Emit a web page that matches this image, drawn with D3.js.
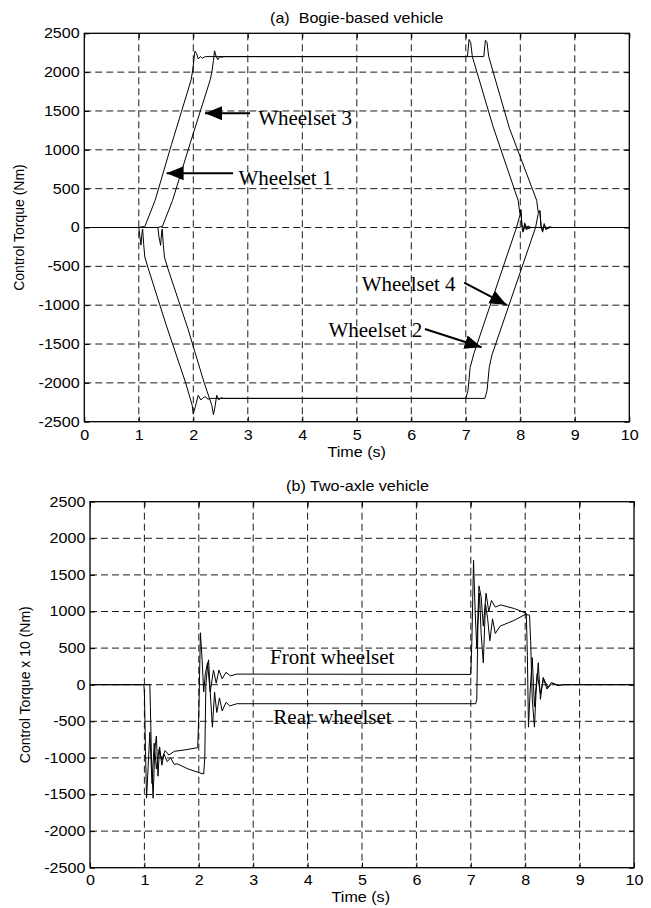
<!DOCTYPE html>
<html lang="en">
<head>
<meta charset="UTF-8">
<title>Control torque</title>
<style>
  body { margin: 0; background: #fff; }
</style>
</head>
<body>
<div id="wrapper"></div>
<script src="https://d3js.org/d3.v7.min.js"></script>
<script>
// ---- data (time in s, torque) ----
const xTicks = [0, 1, 2, 3, 4, 5, 6, 7, 8, 9, 10];
const yTicks = [-2500, -2000, -1500, -1000, -500, 0, 500, 1000, 1500, 2000, 2500];

// (a) bogie-based vehicle
const wheelset1 = [[0,0],[1.00,0],[1.06,10],[1.11,10],[1.30,350],[1.60,1070],[1.96,1900],[1.99,2030],
  [2.03,2270],[2.06,2240],[2.09,2170],[2.13,2200],[2.17,2180],[2.22,2200],[7.03,2200],[7.06,2420],
  [7.09,2380],[7.12,2200],[7.50,1300],[7.96,350],[7.99,190],[8.01,230],[8.03,0],[8.05,-60],[8.08,60],
  [8.11,-30],[8.14,20],[8.20,0],[10,0]];
const wheelset3 = [[0,0],[1.35,0],[1.40,10],[1.43,10],[1.62,350],[1.95,1100],[2.31,1900],[2.34,2000],
  [2.37,2150],[2.39,2275],[2.42,2200],[2.45,2160],[2.48,2200],[2.52,2190],[2.56,2200],[7.33,2200],
  [7.36,2410],[7.39,2380],[7.42,2200],[7.80,1280],[8.30,350],[8.33,190],[8.36,220],[8.38,0],[8.41,-60],
  [8.44,50],[8.47,-30],[8.52,10],[8.60,0],[10,0]];
const wheelset2 = [[0,0],[1.00,0],[1.02,-120],[1.04,-225],[1.06,-60],[1.07,-20],[1.09,-220],[1.11,-380],
  [1.17,-520],[1.50,-1250],[1.86,-2000],[1.98,-2290],[2.00,-2400],[2.04,-2300],[2.09,-2160],[2.14,-2220],
  [2.18,-2190],[2.22,-2180],[2.27,-2210],[2.32,-2200],[7.00,-2200],[7.04,-2100],[7.08,-1800],[7.15,-1620],
  [7.93,0],[7.99,150],[8.01,220],[8.03,40],[8.06,-40],[8.09,40],[8.13,-20],[8.20,0],[10,0]];
const wheelset4 = [[0,0],[1.35,0],[1.37,-120],[1.40,-230],[1.42,-60],[1.43,-20],[1.45,-220],[1.47,-380],
  [1.53,-520],[1.90,-1300],[2.20,-2000],[2.34,-2290],[2.37,-2410],[2.40,-2300],[2.43,-2160],[2.47,-2220],
  [2.51,-2190],[2.55,-2200],[2.62,-2200],[7.35,-2200],[7.39,-2100],[7.43,-1800],[7.48,-1640],[8.28,0],
  [8.33,180],[8.36,210],[8.38,30],[8.41,-40],[8.44,40],[8.48,-20],[8.55,0],[10,0]];

// (b) two-axle vehicle (torque x 10)
const frontWheelset = [[0,0],[0.99,0],[1.00,-100],[1.02,-900],[1.04,-1550],[1.07,-1100],[1.10,-650],
  [1.14,-1350],[1.18,-800],[1.22,-1150],[1.27,-880],[1.32,-1030],[1.38,-900],[1.45,-960],[1.55,-910],
  [1.75,-890],[1.98,-860],[2.00,-400],[2.03,710],[2.06,350],[2.09,-100],[2.12,150],[2.16,300],[2.21,-100],
  [2.27,200],[2.32,20],[2.37,200],[2.43,80],[2.50,170],[2.58,120],[2.70,145],[7.00,140],[7.02,600],
  [7.05,1700],[7.08,1000],[7.11,500],[7.15,1350],[7.19,1200],[7.23,800],[7.28,1250],[7.33,1000],
  [7.38,1150],[7.45,1060],[7.55,1090],[7.80,1040],[8.02,975],[8.04,400],[8.06,-580],[8.09,-100],
  [8.13,370],[8.17,-300],[8.22,150],[8.28,-120],[8.34,80],[8.42,-40],[8.50,20],[8.60,-10],[8.70,0],[10,0]];
const rearWheelset = [[0,0],[1.10,0],[1.11,-300],[1.13,-1000],[1.16,-1550],[1.19,-900],[1.22,-700],
  [1.25,-1250],[1.28,-850],[1.32,-1100],[1.36,-950],[1.42,-1050],[1.48,-1000],[1.55,-1090],[1.60,-1080],
  [1.80,-1150],[2.00,-1200],[2.09,-1220],[2.11,-1000],[2.13,0],[2.16,250],[2.18,340],[2.21,-100],
  [2.25,-580],[2.29,-100],[2.33,-380],[2.38,-180],[2.43,-360],[2.50,-240],[2.57,-290],[2.70,-260],
  [7.09,-260],[7.11,-200],[7.13,800],[7.16,1250],[7.19,700],[7.23,300],[7.27,1100],[7.31,900],
  [7.35,600],[7.40,900],[7.45,700],[7.54,800],[7.80,880],[8.00,960],[8.08,950],[8.10,600],[8.13,-200],
  [8.17,-580],[8.20,-100],[8.24,300],[8.28,-200],[8.33,100],[8.40,-60],[8.48,30],[8.60,-10],[8.70,0],[10,0]];

// annotations: [label, text pos (t, torque), arrow tail, arrow tip]
const notesA = [
  ['Wheelset 3', [3.19, 1318], [3.04, 1470], [2.215, 1470]],
  ['Wheelset 1', [2.83, 547], [2.73, 698], [1.51, 698]],
  ['Wheelset 4', [5.09, -813], [6.97, -710], [7.75, -997]],
  ['Wheelset 2', [4.48, -1413], [6.25, -1306], [7.29, -1542]]
];
const notesB = [
  ['Front wheelset', [3.31, 283]],
  ['Rear wheelset', [3.37, -537]]
];

const width = 651, height = 908;
const sans = '"Liberation Sans", Arial, sans-serif';
const serif = '"Liberation Serif", "Times New Roman", serif';
const stretch = 'scale(1.15,1)';

const svg = d3.select('#wrapper').append('svg')
  .attr('width', width).attr('height', height)
  .style('background', '#fff');

svg.append('defs').append('marker')
  .attr('id', 'head')
  .attr('markerUnits', 'userSpaceOnUse')
  .attr('viewBox', '0 -8 18 16')
  .attr('refX', 17).attr('refY', 0)
  .attr('markerWidth', 18).attr('markerHeight', 16)
  .attr('orient', 'auto')
  .append('path').attr('d', 'M0,-7L17,0L0,7Z').attr('fill', '#000');

function panel(p) {
  const x = d3.scaleLinear().domain([0, 10]).range([p.left, p.right]);
  const y = d3.scaleLinear().domain([-2500, 2500]).range([p.bottom, p.top]);
  const g = svg.append('g');

  // dashed grid
  g.append('g').selectAll('line').data(xTicks.slice(1, -1)).join('line')
    .attr('x1', d => x(d)).attr('x2', d => x(d))
    .attr('y1', p.top).attr('y2', p.bottom)
    .attr('stroke', '#000').attr('stroke-width', 0.9).attr('stroke-dasharray', '7,4');
  g.append('g').selectAll('line').data(yTicks.slice(1, -1)).join('line')
    .attr('y1', d => y(d)).attr('y2', d => y(d))
    .attr('x1', p.left).attr('x2', p.right)
    .attr('stroke', '#000').attr('stroke-width', 0.9).attr('stroke-dasharray', '7,4');

  // axes with inward ticks; plain hyphen for negatives
  const fmt = d => String(d);
  const styleAxis = sel => {
    sel.select('.domain').remove();
    sel.attr('font-size', 14).attr('font-family', sans);
    sel.selectAll('.tick line').attr('stroke', '#000');
    sel.selectAll('.tick text').attr('fill', '#000').attr('transform', stretch);
  };
  g.append('g').attr('transform', `translate(0,${p.bottom})`)
    .call(d3.axisBottom(x).tickValues(xTicks).tickSize(-5).tickPadding(p.xPad).tickFormat(fmt))
    .call(styleAxis);
  g.append('g').attr('transform', `translate(${p.left},0)`)
    .call(d3.axisLeft(y).tickValues(yTicks).tickSize(-5).tickPadding(4).tickFormat(fmt))
    .call(styleAxis);
  g.append('g').attr('transform', `translate(0,${p.top})`)
    .call(d3.axisTop(x).tickValues(xTicks).tickSize(-5).tickFormat(''))
    .call(styleAxis);
  g.append('g').attr('transform', `translate(${p.right},0)`)
    .call(d3.axisRight(y).tickValues(yTicks).tickSize(-5).tickFormat(''))
    .call(styleAxis);

  // curves
  const line = d3.line().x(d => x(d[0])).y(d => y(d[1]));
  g.append('g').selectAll('path').data(p.series).join('path')
    .attr('d', line).attr('fill', 'none')
    .attr('stroke', '#000').attr('stroke-width', 1);

  // frame
  g.append('rect')
    .attr('x', p.left).attr('y', p.top)
    .attr('width', p.right - p.left).attr('height', p.bottom - p.top)
    .attr('fill', 'none').attr('stroke', '#000').attr('stroke-width', 1.3);

  // notes and arrows
  p.notes.forEach(n => {
    g.append('text').attr('x', x(n[1][0])).attr('y', y(n[1][1]))
      .attr('font-family', serif).attr('font-size', 21).attr('fill', '#000')
      .text(n[0]);
    if (n[2]) {
      g.append('line')
        .attr('x1', x(n[2][0])).attr('y1', y(n[2][1]))
        .attr('x2', x(n[3][0])).attr('y2', y(n[3][1]))
        .attr('stroke', '#000').attr('stroke-width', 2)
        .attr('marker-end', 'url(#head)');
    }
  });

  // titles and labels
  g.append('g').attr('transform', `translate(${p.titleX},${p.titleY}) ${stretch}`)
    .append('text').attr('text-anchor', 'middle')
    .attr('font-family', sans).attr('font-size', 14).style('white-space', 'pre')
    .text(p.title);
  g.append('g').attr('transform', `translate(${p.xlabelX},${p.xlabelY}) ${stretch}`)
    .append('text').attr('text-anchor', 'middle')
    .attr('font-family', sans).attr('font-size', 14)
    .text('Time (s)');
  g.append('text')
    .attr('transform', `translate(${p.ylabelX},${(p.top + p.bottom) / 2}) rotate(-90)`)
    .attr('text-anchor', 'middle')
    .attr('font-family', sans).attr('font-size', 14)
    .text(p.ylabel);
}

panel({
  left: 84.3, right: 629.3, top: 33.3, bottom: 421.7, xPad: 8.5,
  series: [wheelset1, wheelset3, wheelset2, wheelset4],
  notes: notesA,
  title: '(a)  Bogie-based vehicle', titleX: 356.8, titleY: 22.5,
  xlabelX: 356.7, xlabelY: 456.5,
  ylabel: 'Control Torque (Nm)', ylabelX: 23.5
});

panel({
  left: 90, right: 634, top: 501.7, bottom: 867.7, xPad: 7.5,
  series: [frontWheelset, rearWheelset],
  notes: notesB,
  title: '(b) Two-axle vehicle', titleX: 357.5, titleY: 491,
  xlabelX: 360.8, xlabelY: 902,
  ylabel: 'Control Torque x 10 (Nm)', ylabelX: 29.5
});
</script>
</body>
</html>
